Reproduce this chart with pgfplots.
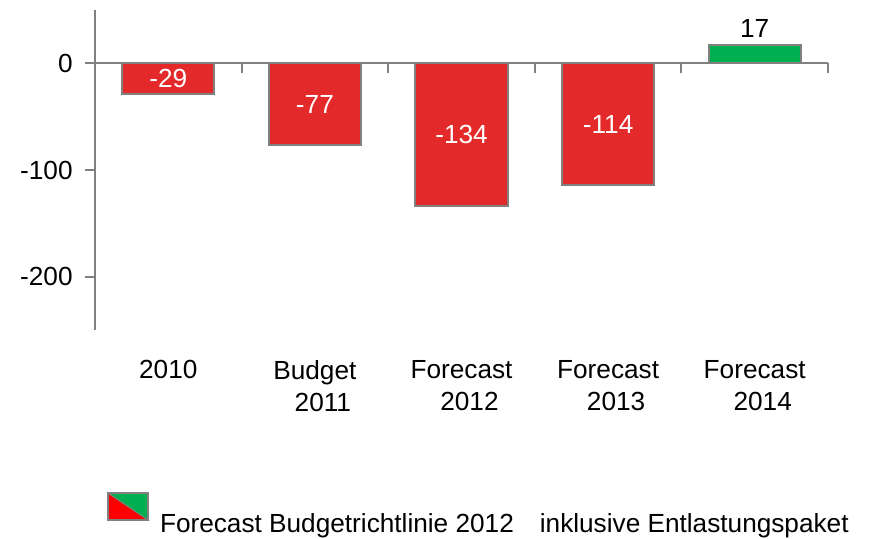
\documentclass[border=0pt]{standalone}
\usepackage{fontspec}
\setmainfont{Liberation Sans}
\usepackage{pgfplots}
\usepackage{pgfplotstable}
\pgfplotsset{compat=1.18}

\definecolor{barred}{RGB}{227,41,41}
\definecolor{bargreen}{RGB}{0,176,80}
\definecolor{axgray}{RGB}{128,128,128}

% negative years (red) and the one positive year (green)
\pgfplotstableread{
x y lab
0 -29 -29
1 -77 -77
2 -134 -134
3 -114 -114
}\negdata
\pgfplotstableread{
x y lab
4 17 17
}\posdata

\begin{document}
\begin{tikzpicture}[font=\fontsize{13.1}{16}\selectfont]
\useasboundingbox (0,0) rectangle (435pt,269.5pt);
\begin{axis}[
    at={(47.5pt,104.5pt)}, anchor=south west,
    scale only axis, width=366.5pt, height=160pt,
    xmin=-0.5, xmax=4.5, ymin=-250, ymax=50,
    axis x line=middle, axis y line=left,
    axis line style={axgray, line width=1pt, -},
    xtick={0.5,1.5,2.5,3.5,4.5}, xticklabels={},
    ytick={-200,-100,0}, yticklabels={-200,-100,0},
    tick style={axgray, line width=1pt},
    major tick length=5pt,
    xtick align=outside, ytick align=outside,
    yticklabel style={inner sep=0pt, xshift=-6pt},
    ybar, bar width=0.63, bar shift=0pt,
    clip=false,
    legend style={draw=none, fill=none, inner sep=0pt,
        at={(0.0164,-0.506)}, anchor=north west,
        column sep=3.5pt,
        legend cell align=left},
]
\addplot[ybar, bar shift=0pt, fill=barred, draw=axgray, line width=1pt,
    point meta=explicit symbolic,
    nodes near coords,
    visualization depends on={y \as \rawy},
    every node near coord/.append style={text=white, anchor=center,
        shift={(axis direction cs:0,-\rawy/2)}},
    forget plot]
    table[x=x, y=y, meta=lab] {\negdata};
\addplot[ybar, bar shift=0pt, fill=bargreen, draw=axgray, line width=1pt,
    point meta=explicit symbolic,
    nodes near coords,
    every node near coord/.append style={text=black},
    forget plot]
    table[x=x, y=y, meta=lab] {\posdata};

\addlegendimage{legend image code/.code={
    \fill[red] (0pt,2pt) -- (20pt,2pt) -- (0pt,15.5pt) -- cycle;
    \fill[bargreen] (0pt,15.5pt) -- (20pt,15.5pt) -- (20pt,2pt) -- cycle;
    \draw[axgray, line width=0.8pt] (0pt,2pt) rectangle (20pt,15.5pt);
    \draw[axgray, line width=0.5pt] (0pt,15.5pt) -- (20pt,2pt);
}}
\addlegendentry{Forecast Budgetrichtlinie 2012\hspace{13pt}inklusive Entlastungspaket}

\node[anchor=north, inner sep=0pt, align=center, yshift=-15pt] at (axis cs:0,-250) {2010};
\node[anchor=north, inner sep=0pt, align=center, yshift=-15pt] at (axis cs:1,-250) {Budget\\\hspace*{8pt}2011};
\node[anchor=north, inner sep=0pt, align=center, yshift=-15pt] at (axis cs:2,-250) {Forecast\\\hspace*{8pt}2012};
\node[anchor=north, inner sep=0pt, align=center, yshift=-15pt] at (axis cs:3,-250) {Forecast\\\hspace*{8pt}2013};
\node[anchor=north, inner sep=0pt, align=center, yshift=-15pt] at (axis cs:4,-250) {Forecast\\\hspace*{8pt}2014};
\end{axis}
\end{tikzpicture}
\end{document}
